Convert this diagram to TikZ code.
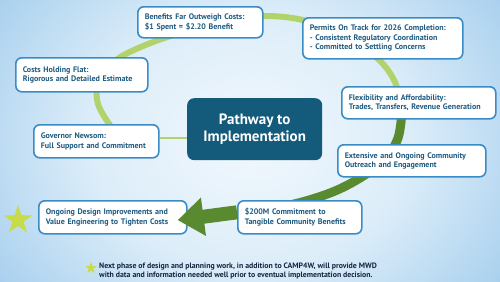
\documentclass[tikz,border=0pt]{standalone}
\usepackage{fontspec}
\setmainfont{PT Sans}
\usetikzlibrary{shapes.geometric,arrows.meta}
\definecolor{bgA}{HTML}{F2F8FD}
\definecolor{bgB}{HTML}{DCEDF9}
\definecolor{bgC}{HTML}{ACD2EF}
\definecolor{bgD}{HTML}{4D9CD7}
\definecolor{bgE}{HTML}{1874C0}
\definecolor{boxline}{HTML}{3A8CC6}
\definecolor{boxtext}{HTML}{1D5B80}
\definecolor{centerfill}{HTML}{145A7B}
\definecolor{ringlight}{HTML}{B2D36B}
\definecolor{ringdark}{HTML}{5A8A2F}
\definecolor{starcol}{HTML}{C8DC4A}
\definecolor{foottext}{HTML}{14253F}
\pgfdeclareradialshading{bgshade}{\pgfpoint{0bp}{0bp}}{color(0bp)=(bgA); color(16bp)=(bgB); color(30bp)=(bgC); color(43bp)=(bgD); color(54bp)=(bgE); color(80bp)=(bgE)}
\tikzset{
  infobox/.style={draw=boxline, line width=1.6pt, rounded corners=6pt, fill=white,
    text=boxtext, font=\bfseries\fontsize{8}{9.5}\selectfont, align=left,
    inner xsep=7pt, inner ysep=0pt, anchor=north west},
  centerbox/.style={fill=centerfill, rounded corners=7pt, text=white, align=center,
    font=\bfseries\fontsize{15}{17.5}\selectfont, anchor=north west, inner sep=0pt},
  lightring/.style={draw=ringlight, line width=6pt, line cap=round},
  darkring/.style={draw=ringdark, line width=9pt},
  bigarrow/.style={draw=ringdark, line width=14pt, -{Triangle[length=26pt,width=37pt]}, shorten >=-10pt},
  starmark/.style={star, star points=5, star point ratio=2.6, fill=starcol, inner sep=0pt},
  footnote/.style={text=foottext, font=\bfseries\fontsize{7.8}{9}\selectfont, align=left, anchor=west, inner sep=0pt}
}
\begin{document}
\begin{tikzpicture}[x=1pt,y=-1pt]
\useasboundingbox (0,0) rectangle (500,281);
\begin{scope}
\clip (0,0) rectangle (500,281);
\shade[shading=bgshade] (0,-60) rectangle (500,340);
\end{scope}
% ring
\draw[lightring] plot[smooth, tension=0.6] coordinates {(112,128) (98,104) (99,80) (116,60) (148,44) (190,30) (232,20) (268,16) (307,21) (345,36) (377,58) (394,80) (401,104) (402,116)};
\draw[darkring] plot[smooth, tension=0.6] coordinates {(402,110) (398,138) (384,160) (360,178) (330,193) (290,205) (250,211) (240,212)};
% boxes
\node[infobox, minimum width=125pt, minimum height=31pt, text width=111pt] (b1) at (137,6) {Benefits Far Outweigh Costs:\\\$1 Spent = \$2.20 Benefit};
\node[infobox, minimum width=160pt, minimum height=41pt, text width=146pt] (b2) at (302,17) {Permits On Track for 2026 Completion:\\- Consistent Regulatory Coordination\\- Committed to Settling Concerns};
\node[infobox, minimum width=132pt, minimum height=34pt, text width=118pt] (b3) at (15,57) {Costs Holding Flat:\\Rigorous and Detailed Estimate};
\node[infobox, minimum width=154pt, minimum height=32pt, text width=140pt] (b4) at (341,86) {Flexibility and Affordability:\\Trades, Transfers, Revenue Generation};
\node[centerbox, minimum width=135pt, minimum height=62pt] (c) at (187,98) {Pathway to\\Implementation};
\node[infobox, minimum width=125pt, minimum height=33pt, text width=111pt] (b6) at (33,124) {Governor Newsom:\\Full Support and Commitment};
\node[infobox, minimum width=148pt, minimum height=32pt, text width=134pt] (b7) at (337,144) {Extensive and Ongoing Community\\Outreach and Engagement};
\node[infobox, minimum width=148pt, minimum height=33pt, text width=134pt] (b8) at (38,200) {Ongoing Design Improvements and\\Value Engineering to Tighten Costs};
\node[infobox, minimum width=124pt, minimum height=33pt, text width=110pt] (b9) at (237,200) {\$200M Commitment to\\Tangible Community Benefits};
% connectors
\draw[draw=ringlight, line width=1.5pt] ([yshift=3.5pt]b6.east) -- ([yshift=3.5pt]b6.east -| c.west);
\draw[bigarrow] ([yshift=5pt]b9.west) -- ([yshift=-1.5pt]b8.east);
% stars
\node[starmark, minimum size=30.6pt] (s1) at (18,220) {};
\node[starmark, minimum size=12.5pt] (s2) at (91,268) {};
\node[footnote] (ft) at (99,270.5) {Next phase of design and planning work, in addition to CAMP4W, will provide MWD\\with data and information needed well prior to eventual implementation decision.};
\end{tikzpicture}
\end{document}
